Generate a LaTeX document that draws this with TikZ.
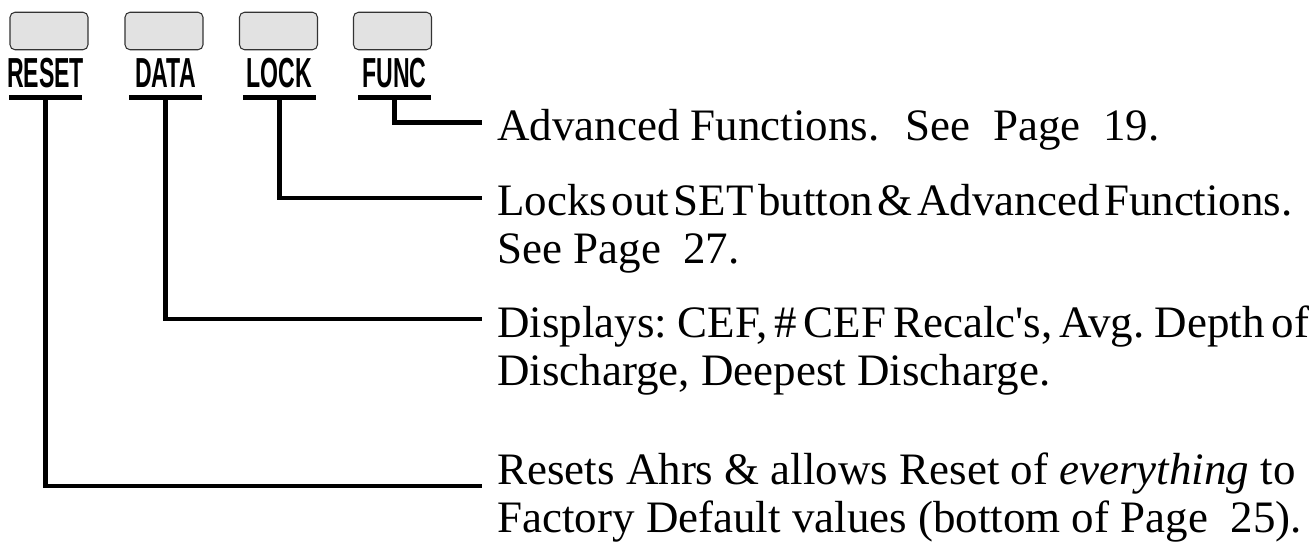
\documentclass[tikz,border=0pt]{standalone}
\usepackage{fontspec}
\setmainfont{Liberation Serif}
\newfontfamily\teclafont{Liberation Sans}
\usetikzlibrary{positioning}
\definecolor{tecla}{RGB}{226,226,226}
\tikzset{
  botao/.style={
    draw=black!80, fill=tecla, rounded corners=0.1cm, line width=0.6pt,
    minimum width=1.56cm, minimum height=0.75cm, inner sep=0pt
  },
  rotulo/.style={font=\teclafont\bfseries\fontsize{23.9}{24}\selectfont, inner sep=0pt},
  barra/.style={fill=black, minimum width=1.46cm, minimum height=0.1cm, inner sep=0pt},
  linha/.style={line width=2.6pt},
  texto/.style={font=\fontsize{25.6}{27.6}\selectfont, align=left, inner sep=0pt, anchor=base west},
}

\begin{document}
\begin{tikzpicture}[x=0.02cm, y=-0.02cm]
\useasboundingbox (0,0) rectangle (1315,543);

% teclas
\foreach \nome/\txt/\xb/\xr in {reset/RESET/49/45.5, data/DATA/164/165.5, lock/LOCK/278.5/279.5, func/FUNC/392.5/394.5}
{
  \node[botao] (\nome btn) at (\xb,31) {};
  \node[rotulo] (\nome) at (\xr,73) {\scalebox{0.55}[1]{\txt}};
  \node[barra] (\nome bar) at (\xr,98) {};
}

% fim das linhas
\coordinate (funcfim) at (482,122.7);
\coordinate (lockfim) at (482,198);
\coordinate (datafim) at (482,319);
\coordinate (resetfim) at (482,486);

% textos (ancorados na ultima linha)
\node[texto] (funcdesc) at (497,140.7)
{Advanced Functions.~ See~ Page~ 19.};

\node[texto] (lockdesc) at (497,264)
{{\spaceskip=0.1em Locks out SET button \& Advanced Functions.}\\See Page~ 27.};

\node[texto] (datadesc) at (497,386)
{{\spaceskip=0.15em Displays: CEF, \# CEF Recalc\textquotesingle s, Avg. Depth of}\\Discharge, Deepest Discharge.};

\node[texto] (resetdesc) at (497,533)
{Resets Ahrs \& allows Reset of \textit{everything} to\\Factory Default values (bottom of Page~ 25).};

\draw[linha] (funcbar.center) |- (funcfim);
\draw[linha] (lockbar.center) |- (lockfim);
\draw[linha] (databar.center) |- (datafim);
\draw[linha] (resetbar.center) |- (resetfim);

\end{tikzpicture}
\end{document}
